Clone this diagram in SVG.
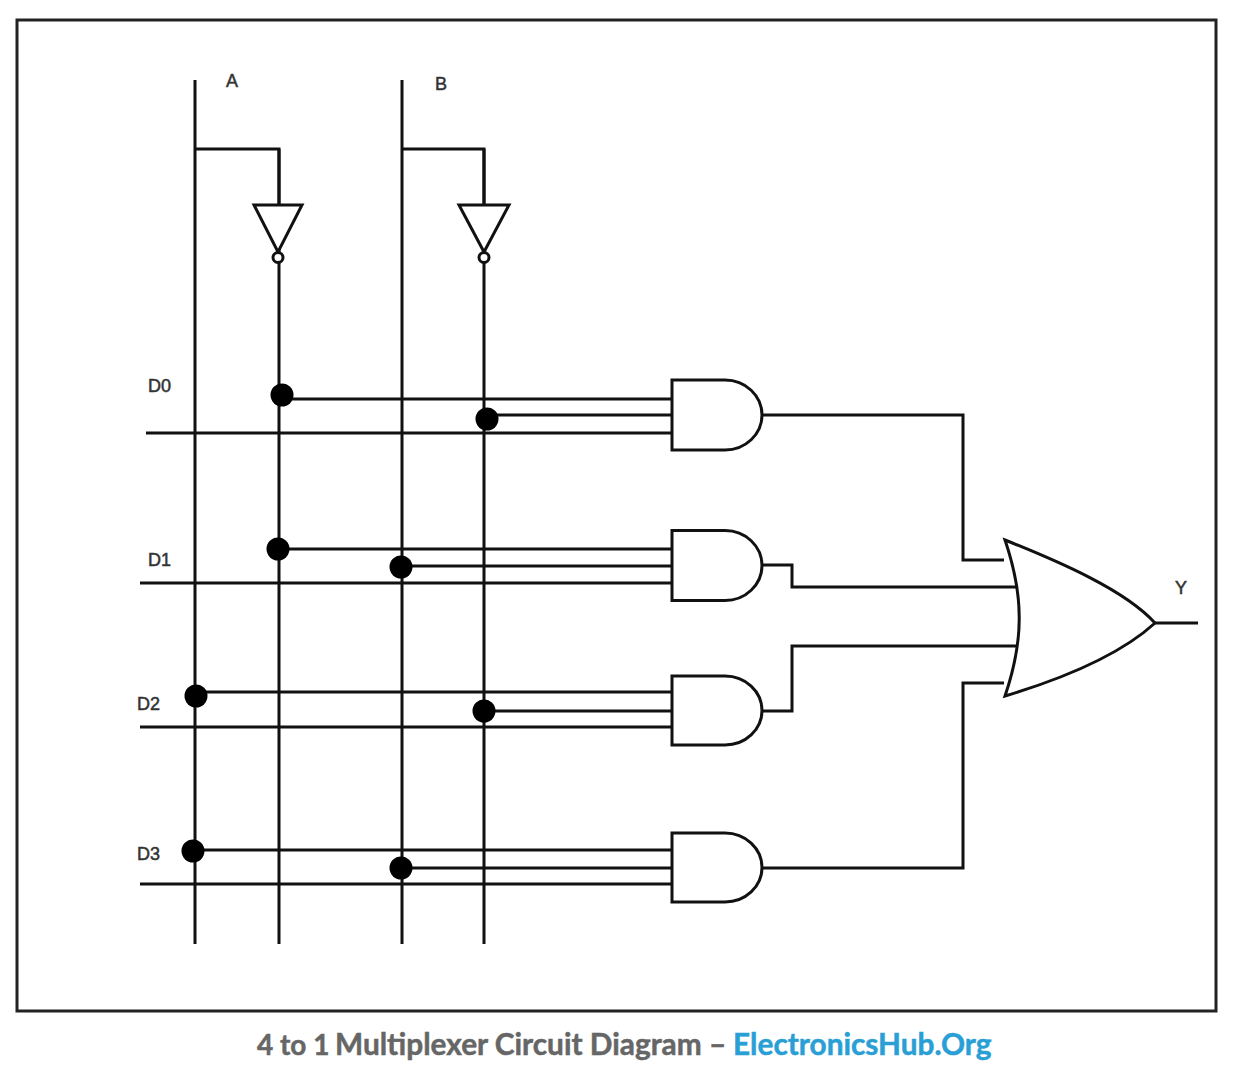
<svg xmlns="http://www.w3.org/2000/svg" width="1240" height="1074" viewBox="0 0 1240 1074">
<style>
.w{fill:none;stroke:#111;stroke-width:3;stroke-linejoin:miter}
.g{fill:#fff;stroke:#111;stroke-width:3}
.d{fill:#000}
.l{font-family:"Liberation Sans",sans-serif;font-size:18px;fill:#333;stroke:#333;stroke-width:.5}
.c{font-family:Lato,"Open Sans",sans-serif;font-size:29.800px;font-weight:bold;stroke-width:.5}
</style>
<rect x="17" y="20" width="1199" height="991" fill="#fff" stroke="#222" stroke-width="3"/>
<g id="connectors" class="w">
<path d="M195 80V944M279 149V944M402 80V944M484 149V944"/>
<path d="M195 149H279V205M402 149H484V205"/>
<path d="M282 399H672M487 415H672M146 433H672"/>
<path d="M278 549H672M401 566H672M140 583H672"/>
<path d="M196 692H672M484 711H672M140 727H672"/>
<path d="M193 850H672M401 868H672M140 884H672"/>
<path d="M762 415H963V560H1004"/>
<path d="M762 565H792V587H1016"/>
<path d="M762 711H792V646H1018"/>
<path d="M762 868H963V683H1004"/>
<path d="M1155 623H1198"/>
</g>
<g id="not-a"><path class="g" d="M254 205H302L278 252Z"/><circle class="g" cx="278" cy="257.500" r="5" stroke-width="2.400"/></g>
<g id="not-b"><path class="g" d="M459 205H509L484 252Z"/><circle class="g" cx="484" cy="257.500" r="5" stroke-width="2.400"/></g>
<g id="and-0"><path class="g" d="M672 380H725A37 35 0 0 1 725 450H672Z"/></g>
<g id="and-1"><path class="g" d="M672 530.500H725A37 35 0 0 1 725 600.500H672Z"/></g>
<g id="and-2"><path class="g" d="M672 676H725A37 34.500 0 0 1 725 745H672Z"/></g>
<g id="and-3"><path class="g" d="M672 833H725A37 34.500 0 0 1 725 902H672Z"/></g>
<g id="or-gate"><path class="g" d="M1005 540C1060 562 1125 590 1155 623C1120 655 1065 678 1005 696C1024 640 1024 596 1005 540Z"/></g>
<g id="junctions" class="d">
<circle cx="282" cy="395" r="11.500"/><circle cx="487" cy="419" r="11.500"/>
<circle cx="278" cy="549" r="11.500"/><circle cx="401" cy="567" r="11.500"/>
<circle cx="196" cy="696" r="11.500"/><circle cx="484" cy="711" r="11.500"/>
<circle cx="193" cy="851" r="11.500"/><circle cx="401" cy="868" r="11.500"/>
</g>
<g id="labels">
<text class="l" x="226" y="87">A</text><text class="l" x="435" y="90">B</text>
<text class="l" x="148" y="392">D0</text><text class="l" x="148" y="566">D1</text>
<text class="l" x="137" y="710">D2</text><text class="l" x="137" y="860">D3</text>
<text class="l" x="1175" y="594">Y</text>
</g>
<text class="c" y="1055" fill="#666" stroke="#666"><tspan x="257" font-size="28">4 to 1</tspan> <tspan x="335">Multiplexer Circuit Diagram –</tspan> <tspan x="733" fill="#2a9fd6" stroke="#2a9fd6">ElectronicsHub.Org</tspan></text>
</svg>
